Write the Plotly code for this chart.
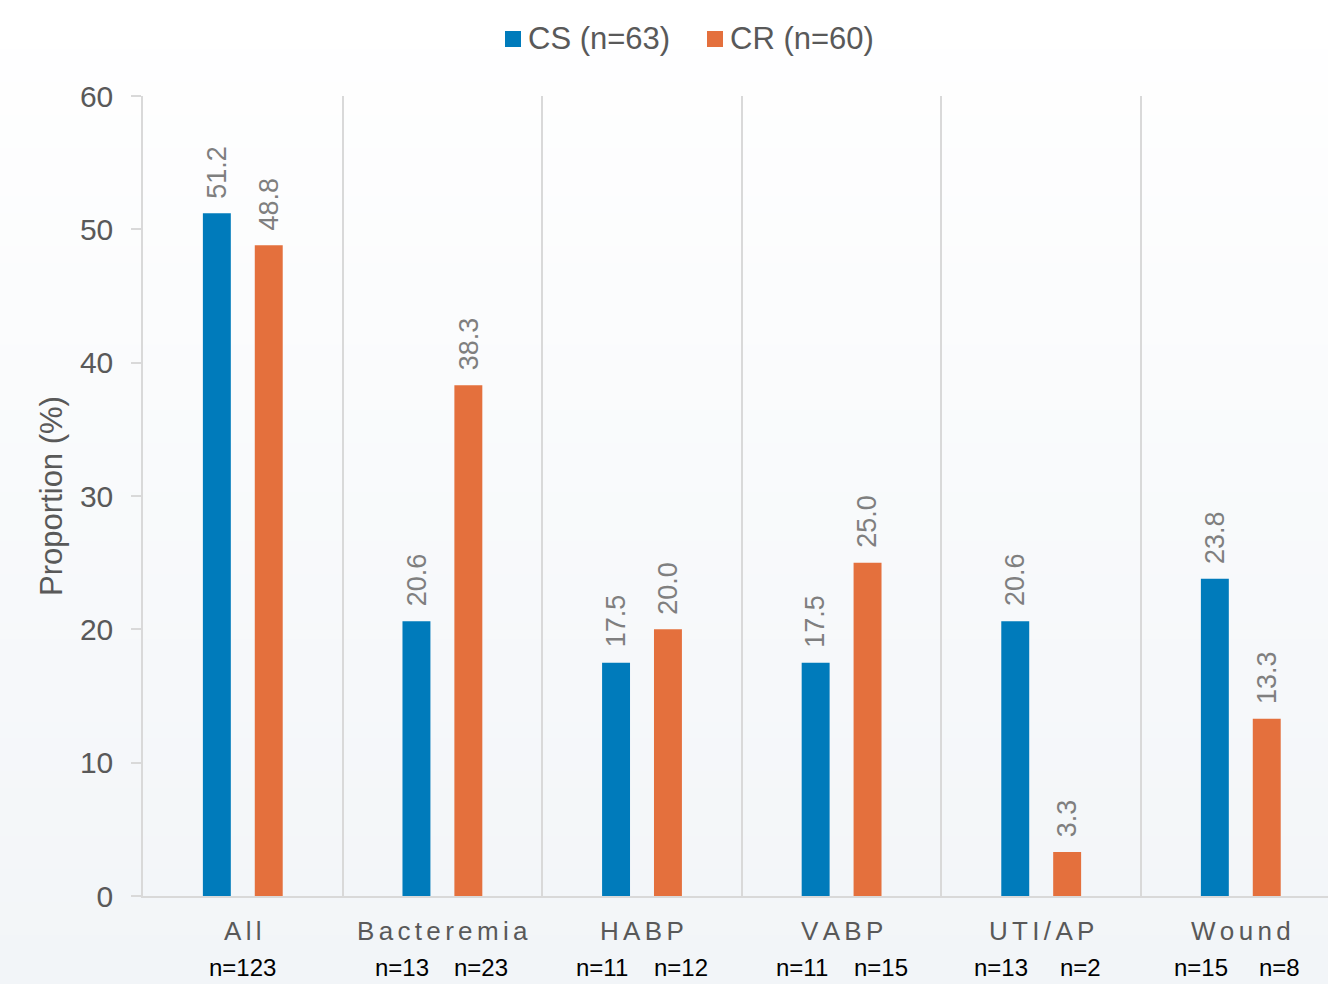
import plotly.graph_objects as go

categories = ["All", "Bacteremia", "HABP", "VABP", "UTI/AP", "Wound"]
cs_values = [51.2, 20.6, 17.5, 17.5, 20.6, 23.8]
cr_values = [48.8, 38.3, 20.0, 25.0, 3.3, 13.3]
cs_n = ["n=123", "n=13", "n=11", "n=11", "n=13", "n=15"]
cr_n = ["", "n=23", "n=12", "n=15", "n=2", "n=8"]
series_names = ["CS (n=63)", "CR (n=60)"]

BLUE = "#007BBB"
ORANGE = "#E4703D"
W, H = 1328, 984
L, R, T, B = 143, 0, 96, 88
pw, ph = W - L - R, H - T - B

x = list(range(len(categories)))
fig = go.Figure()

bw = 0.14
offs = [-0.2, 0.06]
for name, vals, col, off in [(series_names[0], cs_values, BLUE, offs[0]),
                             (series_names[1], cr_values, ORANGE, offs[1])]:
    fig.add_trace(go.Bar(x=x, y=vals, width=bw, offset=off, name=name,
                         marker=dict(color=col, line=dict(width=0)),
                         showlegend=False, hoverinfo="y"))

ann = []
shapes = []

# background vertical gradient
nb = 60
top = (255, 255, 255)
bot = (242, 245, 248)
y_top = 1 + T / ph
y_bot = -B / ph
for k in range(nb):
    f = k / (nb - 1)
    c = tuple(round(top[j] + (bot[j] - top[j]) * f) for j in range(3))
    y1 = y_top - (y_top - y_bot) * k / nb
    y0 = y_top - (y_top - y_bot) * (k + 1) / nb
    shapes.append(dict(type="rect", xref="paper", yref="paper", x0=-L / pw - 0.01, x1=1.01,
                       y0=y0 - 0.002, y1=y1, fillcolor="rgb(%d,%d,%d)" % c, line=dict(width=0),
                       layer="below"))

# legend (manual, to match swatch size and spacing)
def px_x(p):
    return (p - L) / pw

def px_y(p):
    return 1 + (T - p) / ph

legend_left = [505, 707]
for name, col, lx in zip(series_names, [BLUE, ORANGE], legend_left):
    shapes.append(dict(type="rect", xref="paper", yref="paper", x0=px_x(lx), x1=px_x(lx + 16),
                       y0=px_y(47), y1=px_y(31), fillcolor=col, line=dict(width=0)))
    ann.append(dict(x=px_x(lx + 21), y=px_y(39), xref="paper", yref="paper", text=name,
                    showarrow=False, xanchor="left", yanchor="middle",
                    font=dict(size=31, color="#595959", family="Liberation Sans, Arial")))

for vals, off in [(cs_values, offs[0]), (cr_values, offs[1])]:
    for i, v in enumerate(vals):
        ann.append(dict(x=i + off + bw / 2, y=v, xref="x", yref="y", text=f"{v:.1f}", textangle=-90,
                        showarrow=False, yanchor="bottom", xanchor="center", yshift=13,
                        font=dict(size=27, color="#7F7F7F", family="Liberation Sans, Arial")))

SP = "\u2006"
for i, c in enumerate(categories):
    ann.append(dict(x=i, y=0, xref="x", yref="paper", text=SP.join(list(c)), showarrow=False,
                    yanchor="middle", xanchor="center", yshift=-35,
                    font=dict(size=26, color="#595959", family="Liberation Sans, Arial")))
    if cr_n[i]:
        pairs = [(i - 0.2, cs_n[i]), (i + 0.195, cr_n[i])]
    else:
        pairs = [(i, cs_n[i])]
    for xx, t in pairs:
        ann.append(dict(x=xx, y=0, xref="x", yref="paper", text=t, showarrow=False,
                        yanchor="middle", xanchor="center", yshift=-71,
                        font=dict(size=24, color="#000000",
                                  family="Liberation Sans Narrow, Arial Narrow, Liberation Sans")))

fig.update_layout(
    width=W, height=H,
    margin=dict(l=L, r=R, t=T, b=B),
    paper_bgcolor="#F2F5F8", plot_bgcolor="rgba(0,0,0,0)",
    barmode="overlay",
    font=dict(family="Liberation Sans, Arial", color="#595959"),
    showlegend=False,
    annotations=ann,
    shapes=shapes,
    xaxis=dict(range=[-0.5, -0.5 + pw / 199.6], tickvals=[i + 0.5 for i in x], showticklabels=False,
               ticks="", showgrid=True, gridcolor="#D9D9D9", gridwidth=1.5, zeroline=False,
               showline=True, linecolor="#D9D9D9", linewidth=2, fixedrange=True),
    yaxis=dict(range=[0, 60], dtick=10, ticks="outside", ticklen=10, tickcolor="#D9D9D9", tickwidth=1.5,
               showline=True, linecolor="#D9D9D9", linewidth=1.5, showgrid=False, zeroline=False,
               tickfont=dict(size=30, color="#595959"), ticklabelstandoff=12,
               title=dict(text="Proportion (%)", font=dict(size=31, color="#595959"), standoff=8),
               automargin=False, fixedrange=True),
)

fig.write_html("out.html", config={"displayModeBar": False})
